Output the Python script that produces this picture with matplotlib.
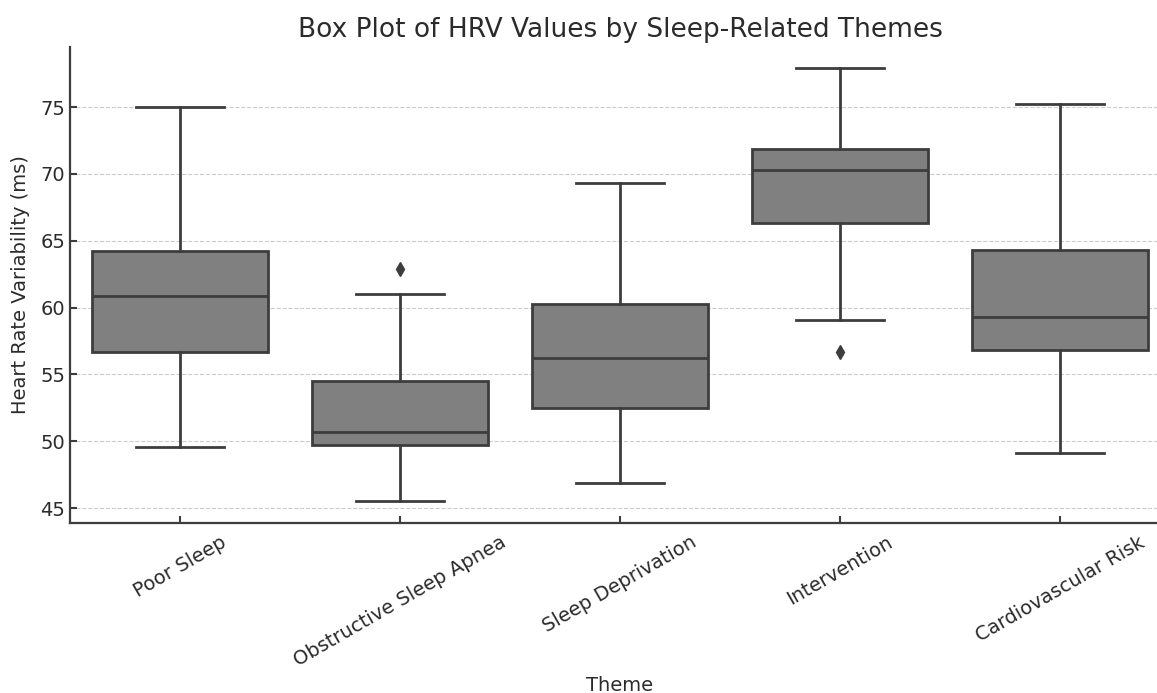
import matplotlib
matplotlib.use("Agg")
import matplotlib.pyplot as plt

themes = ["Poor Sleep", "Obstructive Sleep Apnea", "Sleep Deprivation", "Intervention", "Cardiovascular Risk"]
whisker_low = [49.6, 45.5, 46.9, 59.1, 49.1]
q1 = [56.7, 49.7, 52.5, 66.3, 56.8]
median = [60.9, 50.7, 56.2, 70.3, 59.3]
q3 = [64.2, 54.5, 60.3, 71.9, 64.3]
whisker_high = [75.0, 61.0, 69.3, 77.9, 75.2]
outliers = [[], [62.9], [], [56.7], []]

stats = []
for i, name in enumerate(themes):
    stats.append(dict(label=name, whislo=whisker_low[i], q1=q1[i], med=median[i],
                      q3=q3[i], whishi=whisker_high[i], fliers=outliers[i]))

edge = "#3d3d3d"
txt = "#2b2b2b"
fig = plt.figure(figsize=(11.57, 6.93), dpi=100)
ax = fig.add_axes([70/1157, 1 - 523/693, (1170-70)/1157, (523-47)/693])

ax.bxp(stats, positions=range(len(themes)), widths=0.8, patch_artist=True,
       boxprops=dict(facecolor="#808080", edgecolor=edge, linewidth=2),
       medianprops=dict(color=edge, linewidth=2),
       whiskerprops=dict(color=edge, linewidth=2),
       capprops=dict(color=edge, linewidth=2),
       flierprops=dict(marker="d", markerfacecolor=edge, markeredgecolor=edge, markersize=7),
       capwidths=0.4)

ax.set_xlim(-0.5, 4.5)
ax.set_ylim(43.88, 79.5)
ax.set_yticks([45, 50, 55, 60, 65, 70, 75])
ax.set_xticks(range(len(themes)))
ax.set_xticklabels(themes, rotation=30, fontsize=14, color=txt)
ax.tick_params(axis="y", labelsize=14, colors=txt)
ax.tick_params(direction="in", length=5, width=1.5, color=edge)
ax.tick_params(axis="x", pad=7)
ax.yaxis.grid(True, linestyle="--", color="#cccccc", linewidth=0.8)
ax.set_axisbelow(True)
for s in ["top", "right"]:
    ax.spines[s].set_visible(False)
for s in ["left", "bottom"]:
    ax.spines[s].set_linewidth(1.6)
    ax.spines[s].set_color(edge)

ax.set_title("Box Plot of HRV Values by Sleep-Related Themes", fontsize=19, color=txt, pad=7)
ax.set_xlabel("Theme", fontsize=14, color=txt)
ax.set_ylabel("Heart Rate Variability (ms)", fontsize=14, color=txt, labelpad=7.5)

fig.savefig("out.png", dpi=100)
